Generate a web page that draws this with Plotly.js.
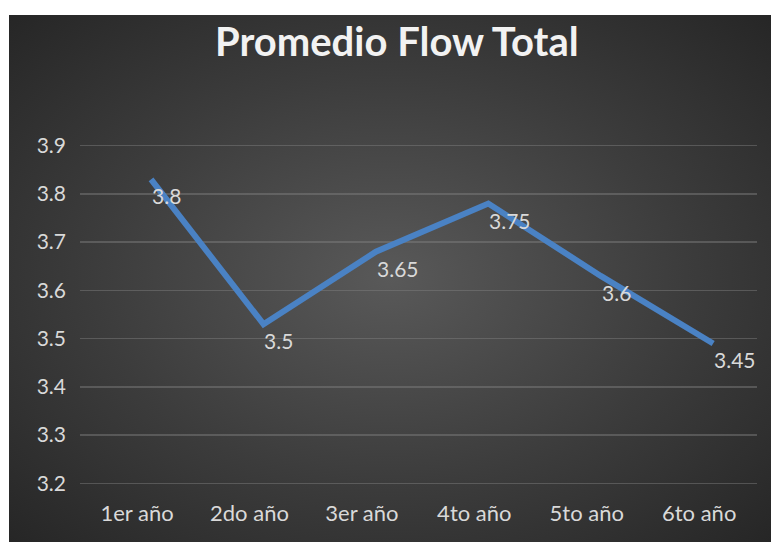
<!DOCTYPE html>
<html>
<head>
<meta charset="utf-8">
<script src="https://cdn.plot.ly/plotly-3.0.1.min.js"></script>
<style>
  html, body { margin: 0; padding: 0; background: #ffffff; width: 771px; height: 542px; overflow: hidden; }
  #chart {
    position: absolute; left: 9px; top: 15px; width: 762px; height: 527px;
    background: radial-gradient(ellipse farthest-corner at 50% 50%, #595959 0%, #3c3c3c 55%, #262626 100%);
  }
</style>
</head>
<body>
<div id="chart"></div>
<script>
const categories = ['1er año', '2do año', '3er año', '4to año', '5to año', '6to año'];
const values = [3.83, 3.53, 3.68, 3.78, 3.63, 3.49];
const valueLabels = ['3.8', '3.5', '3.65', '3.75', '3.6', '3.45'];
const yTicks = [3.2, 3.3, 3.4, 3.5, 3.6, 3.7, 3.8, 3.9];
const yTickLabels = ['3.2', '3.3', '3.4', '3.5', '3.6', '3.7', '3.8', '3.9'];
const chartTitle = 'Promedio Flow Total';

const FONT = 'Lato, "Open Sans", sans-serif';
const xPos = categories.map((c, i) => i);

const trace = {
  x: xPos,
  y: values,
  type: 'scatter',
  mode: 'lines',
  line: { color: '#4a82c4', width: 6 },
  hoverinfo: 'skip',
  cliponaxis: false
};

const labelAnnotations = valueLabels.map((t, i) => ({
  x: xPos[i],
  y: values[i],
  xref: 'x',
  yref: 'y',
  text: t,
  showarrow: false,
  xanchor: 'left',
  yanchor: 'top',
  xshift: -1,
  yshift: -2,
  font: { family: FONT, size: 21, color: '#d9d9d9' }
}));

const layout = {
  width: 762,
  height: 527,
  paper_bgcolor: 'rgba(0,0,0,0)',
  plot_bgcolor: 'rgba(0,0,0,0)',
  margin: { l: 71, r: 14, t: 121, b: 49, pad: 0 },
  showlegend: false,
  title: {
    text: '<b>' + chartTitle + '</b>',
    font: { family: FONT, size: 40, color: '#f2f2f2' },
    x: 0.468, xanchor: 'center', xref: 'paper',
    y: 0.948, yanchor: 'middle', yref: 'container'
  },
  annotations: labelAnnotations,
  xaxis: {
    type: 'linear',
    range: [-0.632, 5.39],
    tickmode: 'array',
    tickvals: xPos,
    ticktext: categories,
    ticklabelshift: -14,
    ticklabelstandoff: 5,
    showgrid: false,
    zeroline: false,
    showline: false,
    ticks: '',
    tickfont: { family: FONT, size: 22, color: '#d9d9d9' },
    fixedrange: true,
    automargin: false
  },
  yaxis: {
    range: [3.18, 3.92],
    tickmode: 'array',
    tickvals: yTicks,
    ticktext: yTickLabels,
    showgrid: true,
    gridcolor: 'rgba(130,130,130,0.45)',
    gridwidth: 1.5,
    zeroline: false,
    showline: false,
    ticks: '',
    ticklabelstandoff: 13,
    tickfont: { family: FONT, size: 21, color: '#d9d9d9' },
    fixedrange: true,
    automargin: false
  }
};

Plotly.newPlot('chart', [trace], layout, { displayModeBar: false, staticPlot: true });
</script>
</body>
</html>
